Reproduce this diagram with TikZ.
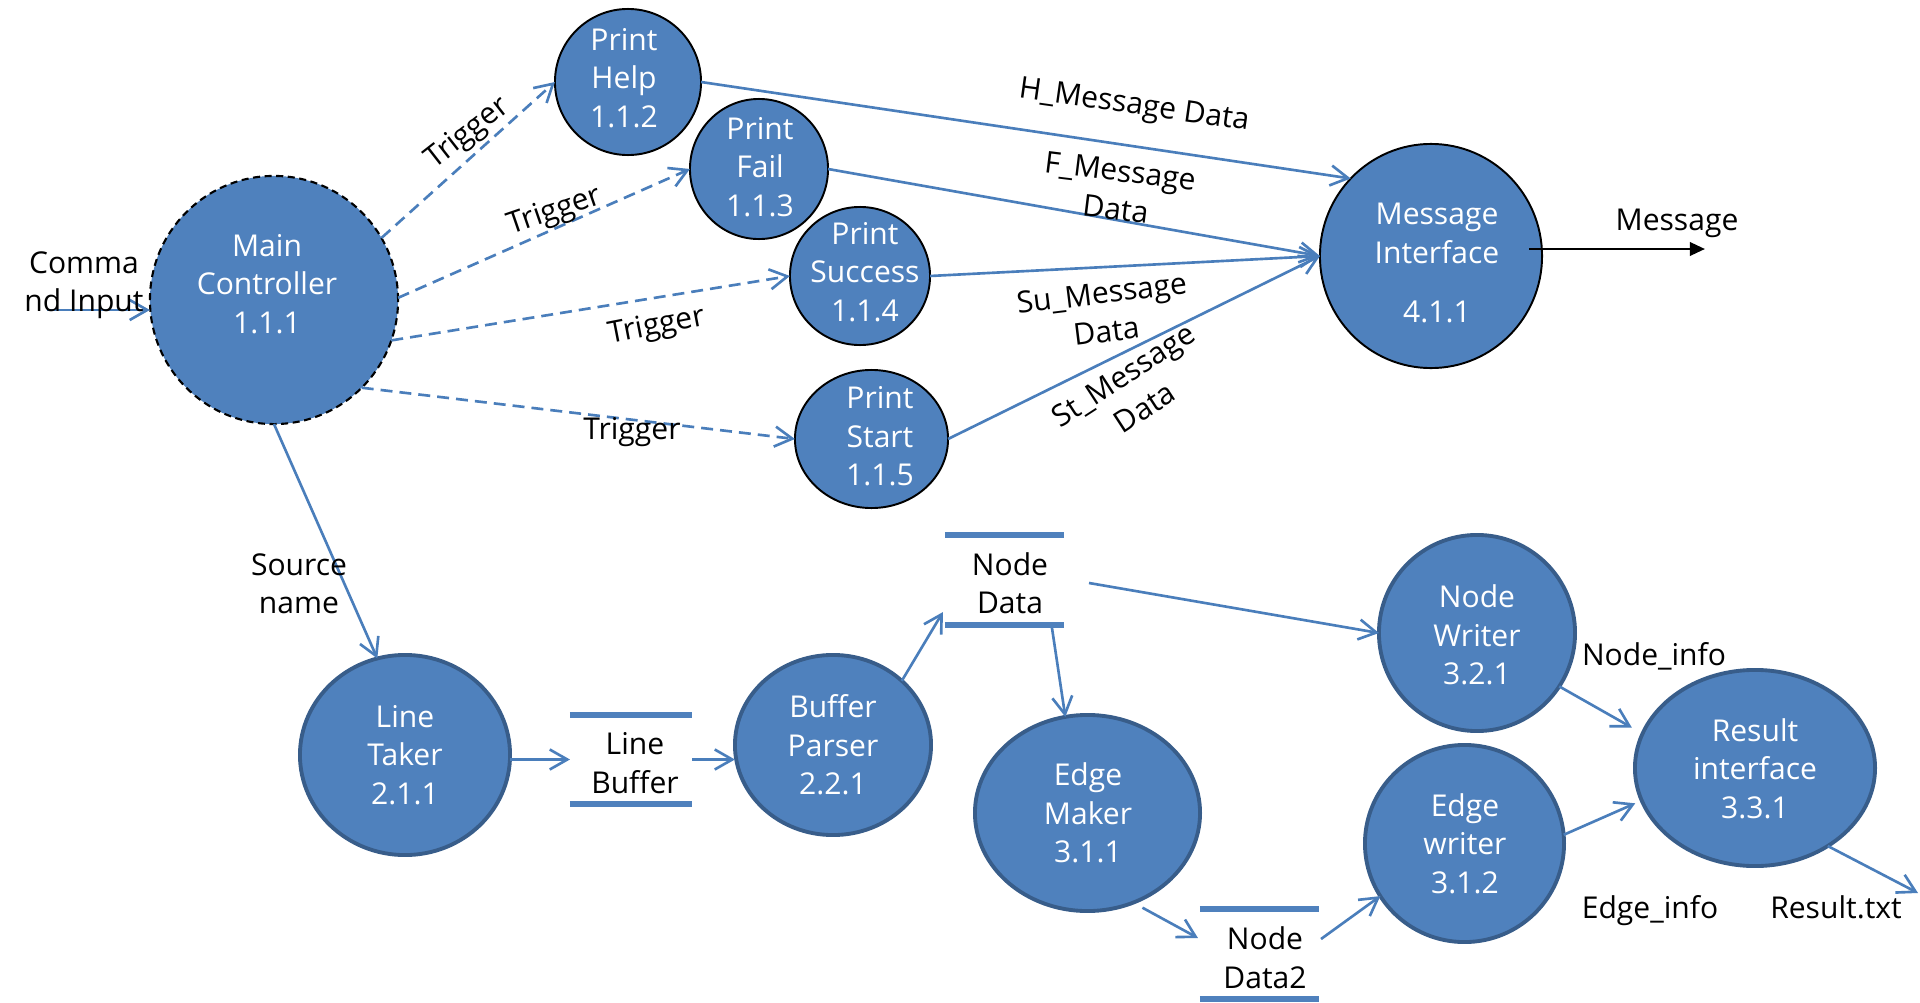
\documentclass[tikz,border=0pt]{standalone}
\usepackage{fontspec}
\setmainfont{Open Sans}
\usetikzlibrary{arrows.meta,shapes.geometric,calc}
\definecolor{procfill}{HTML}{4F81BD}
\definecolor{procedge}{HTML}{385D8A}
\definecolor{flowblue}{HTML}{4A7EBB}
\tikzset{
  every node/.style={font=\fontsize{8.55pt}{10.95pt}\selectfont},
  proc/.style={ellipse, fill=procfill, inner sep=0pt, outer sep=0pt},
  upper/.style={proc, draw=black, line width=0.55pt},
  lower/.style={proc, draw=procedge, line width=1.1pt},
  ctrl/.style={proc, draw=black, line width=0.6pt, dash pattern=on 2pt off 1.3pt},
  ptext/.style={text=white, align=center, inner sep=0pt},
  ltext/.style={text=black, align=center, inner sep=0pt},
  store/.style={rectangle, inner sep=0pt, outer sep=0pt},
  bar/.style={draw=procfill, line width=1.9pt},
  flow/.style={draw=flowblue, line width=0.75pt, -{Straight Barb[length=5pt,width=5.7pt]}},
  trig/.style={flow, dash pattern=on 3.4pt off 2pt},
  msg/.style={draw=black, line width=0.75pt, -{Triangle[length=4.3pt,width=3.8pt]}},
}
\begin{document}
\begin{tikzpicture}[x=0.01cm, y=-0.01cm]
\useasboundingbox (0,0) rectangle (1920,1003);

% processes
\node[ctrl, minimum width=2.48cm, minimum height=2.48cm] (main) at (274,300) {};
\node[upper, minimum width=1.46cm, minimum height=1.46cm] (ph) at (628,82) {};
\node[upper, minimum width=1.38cm, minimum height=1.40cm] (pf) at (759,169) {};
\node[upper, minimum width=1.40cm, minimum height=1.38cm] (ps) at (860,276) {};
\node[upper, minimum width=1.53cm, minimum height=1.38cm] (pst) at (871.5,439) {};
\node[upper, minimum width=2.22cm, minimum height=2.24cm] (mi) at (1431,256) {};
\node[lower, minimum width=2.10cm, minimum height=2.00cm] (lt) at (405,755) {};
\node[lower, minimum width=1.96cm, minimum height=1.80cm] (bp) at (833,745) {};
\node[lower, minimum width=2.25cm, minimum height=1.96cm] (em) at (1087.5,813) {};
\node[lower, minimum width=1.96cm, minimum height=1.96cm] (nw) at (1477,633) {};
\node[lower, minimum width=1.99cm, minimum height=1.97cm] (ew) at (1464.5,843.5) {};
\node[lower, minimum width=2.40cm, minimum height=1.96cm] (ri) at (1755,768) {};

\node[ptext] (maint) at (267,284) {Main\\Controller\\1.1.1};
\node[ptext] (pht) at (624,78) {Print\\Help\\1.1.2};
\node[ptext] (pft) at (760,167) {Print\\Fail\\1.1.3};
\node[ptext] (pst1) at (865,272) {Print\\Success\\1.1.4};
\node[ptext] (pstt) at (880,436.5) {Print\\Start\\1.1.5};
\node[ptext] (mit) at (1437,263) {Message\\Interface\\[5.8pt]4.1.1};
\node[ptext] (ltt) at (405,755) {Line\\Taker\\2.1.1};
\node[ptext] (bpt) at (833,745) {Buffer\\Parser\\2.2.1};
\node[ptext] (emt) at (1088,813) {Edge\\Maker\\3.1.1};
\node[ptext] (nwt) at (1477,635) {Node\\Writer\\3.2.1};
\node[ptext] (ewt) at (1465,843.5) {Edge\\writer\\3.1.2};
\node[ptext] (rit) at (1755,768.5) {Result\\interface\\3.3.1};

% data stores
\node[store, minimum width=1.22cm, minimum height=0.89cm] (lb) at (631,759.5) {};
\node[store, minimum width=1.19cm, minimum height=0.90cm] (nd) at (1004.5,580) {};
\node[store, minimum width=1.19cm, minimum height=0.90cm] (nd2) at (1259.5,954) {};
\foreach \s in {lb,nd,nd2}{
  \draw[bar] (\s.north west) -- (\s.north east);
  \draw[bar] (\s.south west) -- (\s.south east);
}
\node[ltext] (lbt) at (635,763) {Line\\Buffer};
\node[ltext] (ndt) at (1010,583) {Node\\Data};
\node[ltext] (nd2t) at (1265,957.5) {Node\\Data2};

% free ends
\coordinate (cin) at (47,310);
\coordinate (mo) at (1705,249);
\coordinate (rt) at (1918,893);

% connectors
\draw[flow] (cin) -- (cin -| main.west);
\draw[trig] (main.30) -- (ph.180);
\draw[trig] (main.1) -- (pf.180);
\draw[trig] (main.-19) -- (ps.180);
\draw[trig] (main.-45) -- (pst.180);
\draw[flow] (ph.0) -- (mi.136);
\draw[flow] (pf.0) -- (mi.180);
\draw[flow] (ps.0) -- (mi.180);
\draw[flow] (pst.0) -- (mi.180);
\draw[msg] ($(mi.center)+(98,-7)$) -- (mo);
\draw[flow] (main.south) -- (lt.106);
\draw[flow] (lt.east |- lb.west) -- (lb.west);
\draw[flow] (lb.east) -- (lb.east -| bp.west);
\draw[flow] (bp.43) -- ($(nd.south west)+(-2,-13)$);
\draw[flow] ($(nd.south)+(47.5,3)$) -- (em.103);
\draw[flow] ($(nd.east)+(25,3)$) -- (nw.180);
\draw[flow, shorten <=3pt] (em.-63) -- ($(nd2.west)+(-2,-16)$);
\draw[flow] ($(nd2.east)+(2,-15)$) -- (ew.212);
\draw[flow, shorten >=3.5pt] (nw.-33) -- (ri.163);
\draw[flow, shorten >=2pt] (ew.5) -- (ri.-164);
\draw[flow] (ri.-47) -- (rt);

% labels
\node[ltext] (cmdl) at (84,285) {Comma\\nd Input};
\node[ltext, rotate=38] (tr1) at (468,134) {Trigger};
\node[ltext, rotate=19] (tr2) at (555,212) {Trigger};
\node[ltext, rotate=11] (tr3) at (657,327) {Trigger};
\node[ltext] (tr4) at (632,432) {Trigger};
\node[ltext, rotate=-8] (hmd) at (1134,107) {H\_Message Data};
\node[ltext, rotate=-7] (fmd) at (1118,190) {F\_Message\\Data};
\node[ltext, rotate=7] (sumd) at (1104,312) {Su\_Message\\Data};
\node[ltext, rotate=33] (stmd) at (1134,391) {St\_Message\\Data};
\node[ltext, anchor=base] (msgl) at (1677,230) {Message};
\node[ltext] (srcl) at (299,584) {Source\\name};
\node[ltext, anchor=base] (nil) at (1654,665) {Node\_info};
\node[ltext, anchor=base] (eil) at (1650,918) {Edge\_info};
\node[ltext, anchor=base] (rtl) at (1836,918) {Result.txt};
\end{tikzpicture}
\end{document}
